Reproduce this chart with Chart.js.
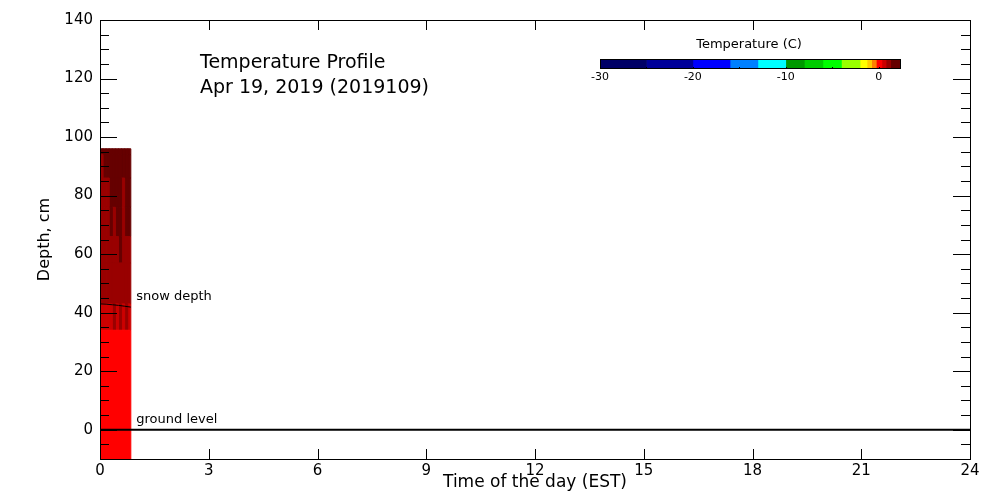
<!DOCTYPE html>
<html>
<head>
<meta charset="utf-8">
<title>Temperature Profile</title>
<script src="https://cdn.jsdelivr.net/npm/chart.js@4.4.1/dist/chart.umd.min.js"></script>
<style>
  html, body { margin: 0; padding: 0; background: #fff; overflow: hidden; }
  #wrap { position: relative; width: 1000px; height: 500px; }
  #profile { position: absolute; left: 0; top: 0; }
  #colorbar { position: absolute; left: 580px; top: 59px; }
</style>
</head>
<body>
<div id="wrap">
  <canvas id="profile" width="1000" height="500"></canvas>
  <canvas id="colorbar" width="340" height="30"></canvas>
</div>
<script>
// time columns of the profile (hours)
const timeEdges = [0, 0.085, 0.17, 0.255, 0.34, 0.425, 0.51, 0.595, 0.68, 0.765, 0.85];
// depth rows of the profile (cm), bottom to top
const depthEdges = [-10, 34, 43, 57, 66, 76, 86, 94, 96];
// temperature (C) per row, one value per time column
const rowTemps = [
  [0.1, 0.1, 0.1, 0.1, 0.1, 0.1, 0.1, 0.1, 0.1, 0.1],
  [0.6, 0.6, 0.6, 0.6, 1.0, 0.6, 1.0, 0.6, 1.0, 0.6],
  [1.0, 1.0, 1.0, 1.0, 1.0, 1.0, 1.0, 1.0, 1.0, 1.0],
  [1.0, 1.0, 1.0, 1.0, 1.0, 1.0, 1.8, 1.0, 1.0, 1.0],
  [1.0, 1.0, 1.0, 1.8, 1.0, 1.8, 1.8, 1.0, 1.8, 1.8],
  [1.0, 1.0, 1.0, 1.8, 1.8, 1.8, 1.8, 1.0, 1.8, 1.8],
  [1.0, 1.8, 1.8, 1.8, 1.8, 1.8, 1.8, 1.8, 1.8, 1.8],
  [1.8, 1.8, 1.8, 1.8, 1.8, 1.8, 1.8, 1.8, 1.8, 1.8]
];
// snow depth line
const snowTimes = [0, 0.17, 0.34, 0.51, 0.68, 0.85];
const snowDepth = [43.0, 42.9, 42.7, 42.5, 42.2, 41.9];
// ground level line
const groundTimes = [0, 24];
const groundDepth = [0, 0];

const xTickValues = [0, 3, 6, 9, 12, 15, 18, 21, 24];
const yTickValues = [0, 20, 40, 60, 80, 100, 120, 140];

// colour scale
const tempLevels = [-30, -25, -20, -16, -13, -10, -8, -6, -4, -2, -1.25, -0.75, -0.25, 0.35, 0.8, 1.3, 2.3];
const levelColors = ['#000066', '#000099', '#0000ff', '#0080ff', '#00ffff', '#009900', '#00cc00', '#00ff00',
                     '#99ff00', '#ffff00', '#ffcc00', '#ff8000', '#ff0000', '#cc0000', '#990000', '#660000'];
const cbTickValues = [-30, -20, -10, 0];

const FONT = 'DejaVu Sans';

function colorFor(t) {
  for (let i = 0; i < levelColors.length; i++) {
    if (t >= tempLevels[i] && t < tempLevels[i + 1]) return levelColors[i];
  }
  return t < tempLevels[0] ? levelColors[0] : levelColors[levelColors.length - 1];
}

// build datasets: lines first so they are drawn on top
const datasets = [];
datasets.push({
  label: 'ground level',
  data: groundTimes.map((t, i) => ({ x: t, y: groundDepth[i] })),
  showLine: true, borderColor: '#000', borderWidth: 2, pointRadius: 0, fill: false
});
datasets.push({
  label: 'snow depth',
  data: snowTimes.map((t, i) => ({ x: t, y: snowDepth[i] })),
  showLine: true, borderColor: '#000', borderWidth: 1, pointRadius: 0, fill: false
});
rowTemps.forEach((row, r) => {
  row.forEach((temp, c) => {
    const x0 = timeEdges[c], x1 = timeEdges[c + 1];
    const y0 = depthEdges[r], y1 = depthEdges[r + 1];
    const col = colorFor(temp);
    datasets.push({
      data: [{ x: x0, y: y0 }, { x: x1, y: y0 }, { x: x1, y: y1 }, { x: x0, y: y1 }, { x: x0, y: y0 }],
      showLine: true, fill: 'shape', tension: 0,
      backgroundColor: col, borderColor: col, borderWidth: 1, pointRadius: 0
    });
  });
});

// frame, inside ticks and text labels
const framePlugin = {
  id: 'frame',
  afterDraw(chart) {
    const { ctx, chartArea: a, scales: { x, y } } = chart;
    ctx.save();
    ctx.strokeStyle = '#000';
    ctx.lineWidth = 1;
    ctx.strokeRect(a.left + 0.5, a.top + 0.5, a.right - a.left, a.bottom - a.top);

    ctx.beginPath();
    xTickValues.forEach(v => {
      const px = Math.round(x.getPixelForValue(v)) + 0.5;
      ctx.moveTo(px, a.bottom); ctx.lineTo(px, a.bottom - 10);
      ctx.moveTo(px, a.top); ctx.lineTo(px, a.top + 10);
    });
    for (let v = -5; v <= 135; v += 5) {
      const py = Math.round(y.getPixelForValue(v)) + 0.5;
      const len = v % 20 === 0 ? 17 : 9;
      ctx.moveTo(a.left, py); ctx.lineTo(a.left + len, py);
      ctx.moveTo(a.right, py); ctx.lineTo(a.right - len, py);
    }
    ctx.stroke();

    ctx.fillStyle = '#000';
    ctx.textBaseline = 'middle';
    ctx.textAlign = 'left';
    ctx.font = '19px "' + FONT + '"';
    ctx.fillText('Temperature Profile', 200, 63);
    ctx.fillText('Apr 19, 2019 (2019109)', 200, 88);

    ctx.font = '13px "' + FONT + '"';
    ctx.textAlign = 'center';
    ctx.fillText('Temperature (C)', 749, 45);
    ctx.textAlign = 'left';
    ctx.fillText('snow depth', x.getPixelForValue(1.0), y.getPixelForValue(45.4));
    ctx.fillText('ground level', x.getPixelForValue(1.0), y.getPixelForValue(3.4));
    ctx.restore();
  }
};

new Chart(document.getElementById('profile'), {
  type: 'scatter',
  data: { datasets: datasets },
  options: {
    responsive: false,
    animation: false,
    layout: { padding: { top: 20, right: 30, left: 0, bottom: 0 } },
    plugins: { legend: { display: false }, tooltip: { enabled: false } },
    scales: {
      x: {
        type: 'linear', min: 0, max: 24,
        afterBuildTicks: s => { s.ticks = xTickValues.map(v => ({ value: v })); },
        afterFit: s => { s.height = 41; },
        grid: { display: false, drawTicks: false },
        border: { display: false },
        ticks: { color: '#000', padding: 3, maxRotation: 0, autoSkip: false, font: { family: FONT, size: 15 } },
        title: { display: true, text: 'Time of the day (EST)', color: '#000',
                 font: { family: FONT, size: 17 }, padding: { top: 0, bottom: 7 } }
      },
      y: {
        type: 'linear', min: -10, max: 140,
        afterBuildTicks: s => { s.ticks = yTickValues.map(v => ({ value: v })); },
        afterFit: s => { s.width = 100; },
        grid: { display: false, drawTicks: false },
        border: { display: false },
        ticks: { color: '#000', padding: 7, font: { family: FONT, size: 15 } },
        title: { display: true, text: 'Depth, cm', color: '#000',
                 font: { family: FONT, size: 16 }, padding: { top: 35, bottom: 0 } }
      }
    }
  },
  plugins: [framePlugin]
});

// colour bar
const cbFrame = {
  id: 'cbFrame',
  afterDraw(chart) {
    const { ctx, chartArea: a, scales: { x } } = chart;
    ctx.save();
    ctx.strokeStyle = '#000';
    ctx.lineWidth = 1;
    ctx.strokeRect(a.left + 0.5, a.top + 0.5, a.right - a.left, a.bottom - a.top - 1);
    ctx.beginPath();
    for (let v = -30; v <= 0; v += 5) {
      const px = Math.round(x.getPixelForValue(v)) + 0.5;
      ctx.moveTo(px, a.bottom); ctx.lineTo(px, a.bottom - 2);
    }
    ctx.stroke();
    ctx.restore();
  }
};

new Chart(document.getElementById('colorbar'), {
  type: 'bar',
  data: {
    labels: ['T'],
    datasets: levelColors.map((c, i) => ({
      data: [[tempLevels[i], tempLevels[i + 1]]],
      backgroundColor: c, borderWidth: 0,
      barPercentage: 1, categoryPercentage: 1, grouped: false
    }))
  },
  options: {
    indexAxis: 'y',
    responsive: false,
    animation: false,
    layout: { padding: { left: 20, right: 20, top: 0, bottom: 0 } },
    plugins: { legend: { display: false }, tooltip: { enabled: false } },
    scales: {
      x: {
        type: 'linear', min: -30, max: 2.3,
        afterBuildTicks: s => { s.ticks = cbTickValues.map(v => ({ value: v })); },
        afterFit: s => { s.height = 20; },
        grid: { display: false, drawTicks: false },
        border: { display: false },
        ticks: { color: '#000', padding: 2, maxRotation: 0, autoSkip: false, font: { family: FONT, size: 11 } }
      },
      y: { display: false }
    }
  },
  plugins: [cbFrame]
});
</script>
</body>
</html>
